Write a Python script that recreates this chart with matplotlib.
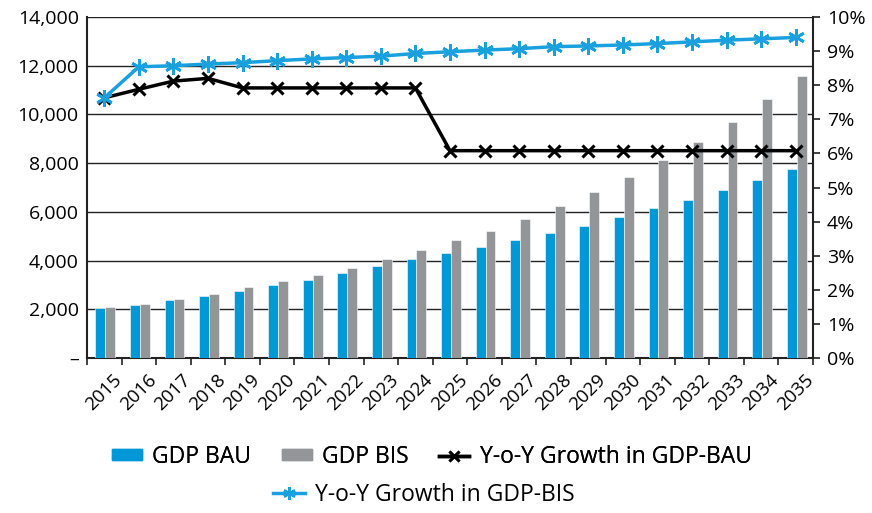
import numpy as np
import matplotlib
matplotlib.use("Agg")
import matplotlib.pyplot as plt
import matplotlib.transforms as mtransforms
from matplotlib.lines import Line2D
from matplotlib.patches import Patch

plt.rcParams['font.family'] = ['Open Sans', 'DejaVu Sans']

# GDP levels and year-on-year growth, 2015-2035
years = [str(y) for y in range(2015, 2036)]
gdp_bau = [2050, 2190, 2400, 2550, 2760, 3000, 3220, 3470, 3770, 4070, 4330,
           4570, 4840, 5130, 5440, 5800, 6150, 6500, 6900, 7310, 7760]
gdp_bis = [2090, 2230, 2440, 2640, 2900, 3160, 3420, 3700, 4060, 4430, 4830,
           5230, 5700, 6240, 6830, 7420, 8125, 8880, 9700, 10620, 11575]
growth_bau = [7.63, 7.88, 8.12, 8.20, 7.92, 7.92, 7.92, 7.92, 7.92, 7.92, 6.08,
              6.08, 6.08, 6.08, 6.08, 6.08, 6.08, 6.08, 6.08, 6.08, 6.08]
growth_bis = [7.63, 8.54, 8.57, 8.62, 8.66, 8.72, 8.77, 8.81, 8.85, 8.93, 8.98,
              9.03, 9.07, 9.13, 9.15, 9.18, 9.22, 9.27, 9.32, 9.36, 9.40]

left_ticks = [0, 2000, 4000, 6000, 8000, 10000, 12000, 14000]
left_labels = ['–', '2,000', '4,000', '6,000', '8,000', '10,000', '12,000', '14,000']
right_ticks = list(range(0, 11))
right_labels = [f'{t}%' for t in right_ticks]

blue = '#0098d6'
grey = '#939598'
line_blue = '#1aa0dc'

fig = plt.figure(figsize=(8.72, 5.13), dpi=100)
ax = fig.add_axes([0.0998, 0.3021, 0.8325, 0.6648])
ax2 = ax.twinx()

x = np.arange(len(years))
w = 0.285
ax.bar(x - w / 2 + 0.03, gdp_bau, w, color=blue, edgecolor='white', linewidth=0.4, zorder=3)
ax.bar(x + w / 2 + 0.03, gdp_bis, w, color=grey, edgecolor='white', linewidth=0.4, zorder=3)

ax.set_xlim(-0.5, len(years) - 0.5)
ax.set_ylim(0, 14000)
ax.set_yticks(left_ticks)
ax.set_yticklabels(left_labels, fontsize=14)
ax.yaxis.grid(True, color='#222222', linewidth=1.0)
ax.set_axisbelow(True)
ax.tick_params(axis='y', length=0, pad=6)

ax.set_xticks(x)
ax.set_xticklabels(years, fontsize=13.5, rotation=45, ha='right', va='top',
                   rotation_mode='anchor')
ax.set_xticks(np.arange(len(years) + 1) - 0.5, minor=True)
ax.tick_params(axis='x', which='major', length=0, pad=9)
ax.tick_params(axis='x', which='minor', length=5, width=1.2, color='#222222')
offset = mtransforms.ScaledTranslation(6 / 72, 0, fig.dpi_scale_trans)
for lab in ax.get_xticklabels():
    lab.set_transform(lab.get_transform() + offset)

for side in ['left', 'bottom']:
    ax.spines[side].set_color('#222222')
    ax.spines[side].set_linewidth(1.5)
ax.spines['top'].set_visible(False)
ax.spines['right'].set_visible(False)

ax2.plot(x, growth_bau, color='black', linewidth=2.5, marker='x', markersize=9,
         markeredgewidth=2.2, zorder=4)
ax2.plot(x, growth_bis, color=line_blue, linewidth=2.5, marker=(6, 2, 0), markersize=12,
         markeredgewidth=2.0, zorder=5)
ax2.set_ylim(0, 10)
ax2.set_yticks(right_ticks)
ax2.set_yticklabels(right_labels, fontsize=14)
ax2.tick_params(axis='y', length=5, width=1.2, color='#222222', pad=5)
ax2.spines['right'].set_color('#222222')
ax2.spines['right'].set_linewidth(1.5)
for side in ['left', 'top', 'bottom']:
    ax2.spines[side].set_visible(False)

# legend: three entries on the first row, the BIS growth line alone below
h1 = [Patch(color=blue), Patch(color=grey),
      Line2D([], [], color='black', linewidth=2.5, marker='x', markersize=7, markeredgewidth=2)]
leg1 = fig.legend(h1, ['GDP BAU', 'GDP BIS', 'Y-o-Y Growth in GDP-BAU'], ncol=3,
                  loc='center', bbox_to_anchor=(0.495, 0.11), frameon=False, fontsize=16.5,
                  handlelength=1.3, handleheight=0.35, columnspacing=1.35, handletextpad=0.45)
h2 = [Line2D([], [], color=line_blue, linewidth=2.5, marker=(6, 2, 0), markersize=9,
             markeredgewidth=1.8)]
fig.legend(h2, ['Y-o-Y Growth in GDP-BIS'], loc='center', bbox_to_anchor=(0.486, 0.035),
           frameon=False, fontsize=16.5, handlelength=1.4, handletextpad=0.45)
fig.add_artist(leg1)

fig.savefig('out.png', dpi=100)
